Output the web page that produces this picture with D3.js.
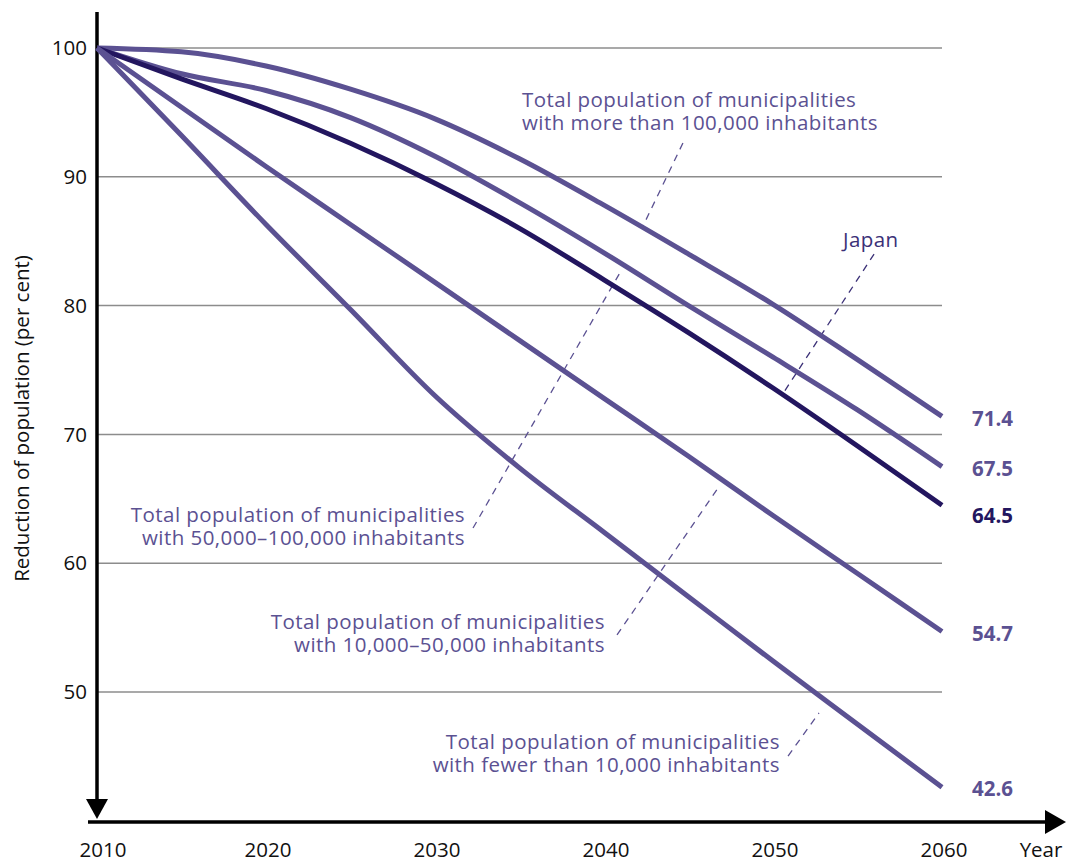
<!DOCTYPE html>
<html>
<head>
<meta charset="utf-8">
<script src="https://cdn.jsdelivr.net/npm/d3@7/dist/d3.min.js"></script>
<style>
  html, body { margin: 0; padding: 0; background: #fff; }
  svg { display: block; font-family: "Open Sans", Lato, sans-serif; }
</style>
</head>
<body>
<svg id="chart" width="1072" height="862"></svg>
<script>
// ---------- data ----------
const years = [2010, 2015, 2020, 2025, 2030, 2035, 2040, 2045, 2050, 2055, 2060];
const seriesNames = [
  "More than 100,000",
  "50,000–100,000",
  "Japan",
  "10,000–50,000",
  "Fewer than 10,000"
];
const over100k     = [100, 99.7, 98.6, 96.8, 94.5, 91.4, 87.8, 84.0, 80.1, 75.8, 71.4];
const from50to100k = [100, 98.0, 96.7, 94.6, 91.6, 88.0, 84.1, 80.0, 76.0, 71.9, 67.5];
const japan        = [100, 97.6, 95.3, 92.6, 89.5, 86.0, 82.0, 77.9, 73.6, 69.1, 64.5];
const from10to50k  = [100, 95.4, 90.8, 86.3, 81.8, 77.3, 72.8, 68.3, 63.7, 59.2, 54.7];
const under10k     = [100, 93.2, 86.3, 79.7, 73.0, 67.4, 62.4, 57.4, 52.4, 47.5, 42.6];
const endLabels  = ["71.4", "67.5", "64.5", "54.7", "42.6"];
const yTicks = [50, 60, 70, 80, 90, 100];
const xTicks = [2010, 2020, 2030, 2040, 2050, 2060];
const yTitle = "Reduction of population (per cent)";
const xTitle = "Year";
// annotations: text lines, text anchor point (year, value), leader line (year,value)->(year,value)
const annoText = [
  ["Total population of municipalities", "with more than 100,000 inhabitants"],
  ["Japan"],
  ["Total population of municipalities", "with 50,000–100,000 inhabitants"],
  ["Total population of municipalities", "with 10,000–50,000 inhabitants"],
  ["Total population of municipalities", "with fewer than 10,000 inhabitants"]
];
const annoAt = [[2035.15, 95.42], [2054.14, 84.55], [2031.78, 63.2], [2040.06, 54.89], [2050.41, 45.57]];
const annoAnchor = ["start", "start", "end", "end", "end"];
const leaderFrom = [[2044.67, 92.62], [2055.98, 84.0], [2032.25, 62.73], [2040.77, 54.43], [2050.89, 45.03]];
const leaderTo   = [[2042.25, 86.02], [2050.65, 73.29], [2041.07, 82.84], [2046.75, 65.84], [2052.72, 48.37]];

const allSeries = [over100k, from50to100k, japan, from10to50k, under10k];

// ---------- styles ----------
const purple = "#5b5192";
const dark = "#23165f";
const colors = [purple, purple, dark, purple, purple];
const annoColors = [purple, "#3b3077", purple, purple, purple];
const fs = 20.5;

// ---------- drawing ----------
const svg = d3.select("#chart");
const x = d3.scaleLinear().domain([2010, 2060]).range([97, 942]);
const y = d3.scaleLinear().domain([50, 100]).range([692, 48]);

// gridlines
svg.append("g").selectAll("line").data(yTicks).join("line")
  .attr("x1", x(2010)).attr("x2", x(2060))
  .attr("y1", d => y(d)).attr("y2", d => y(d))
  .attr("stroke", "#8c8c8c").attr("stroke-width", 1.5);

// y tick labels
svg.append("g").selectAll("text").data(yTicks).join("text")
  .attr("x", 87).attr("y", d => y(d)).attr("dy", "0.35em")
  .attr("text-anchor", "end").attr("font-size", fs).attr("fill", "#111")
  .text(d => d);

// x tick labels
const axisY = 822;
svg.append("g").selectAll("text").data(xTicks).join("text")
  .attr("x", d => x(d) + (d === 2010 ? 6 : 2)).attr("y", 850).attr("dy", "0.35em")
  .attr("text-anchor", "middle").attr("font-size", fs).attr("fill", "#111")
  .text(d => d);

svg.append("text").attr("x", 1041).attr("y", 850).attr("dy", "0.35em")
  .attr("text-anchor", "middle").attr("font-size", fs).attr("fill", "#111").text(xTitle);

svg.append("text")
  .attr("transform", `translate(22,${(245 + 592) / 2}) rotate(-90)`)
  .attr("text-anchor", "middle").attr("dy", "0.35em").attr("font-size", fs).attr("fill", "#111")
  .text(yTitle);

// axes with arrows
svg.append("line").attr("x1", x(2010)).attr("x2", x(2010)).attr("y1", 12).attr("y2", 802)
  .attr("stroke", "#000").attr("stroke-width", 3.5);
svg.append("path")
  .attr("d", `M${x(2010) - 11},799 L${x(2010) + 11},799 L${x(2010)},819 Z`).attr("fill", "#000");
svg.append("line").attr("x1", 88).attr("x2", 1048).attr("y1", axisY).attr("y2", axisY)
  .attr("stroke", "#000").attr("stroke-width", 3.5);
svg.append("path")
  .attr("d", `M1045,${axisY - 12} L1045,${axisY + 12} L1066,${axisY} Z`).attr("fill", "#000");

// leader lines
svg.append("g").selectAll("line").data(leaderFrom).join("line")
  .attr("x1", d => x(d[0])).attr("y1", d => y(d[1]))
  .attr("x2", (d, i) => x(leaderTo[i][0])).attr("y2", (d, i) => y(leaderTo[i][1]))
  .attr("stroke", (d, i) => annoColors[i]).attr("stroke-width", 1.3)
  .attr("stroke-dasharray", "7,6");

// series lines
const line = d3.line().x((d, i) => x(years[i])).y(d => y(d)).curve(d3.curveMonotoneX);
svg.append("g").selectAll("path").data(allSeries).join("path")
  .attr("d", d => line(d)).attr("fill", "none")
  .attr("stroke", (d, i) => colors[i]).attr("stroke-width", 5)
  .attr("stroke-linecap", "butt");

// end labels (with simple spacing so they don't collide)
let prev = -Infinity;
const labelY = allSeries.map(d => {
  const v = Math.max(y(d[d.length - 1]) + 2, prev + 47);
  prev = v;
  return v;
});
svg.append("g").selectAll("text").data(allSeries).join("text")
  .attr("x", 972).attr("y", (d, i) => labelY[i]).attr("dy", "0.35em")
  .attr("font-size", fs).attr("font-weight", "bold").attr("fill", (d, i) => colors[i])
  .text((d, i) => endLabels[i]);

// annotation texts (one text element per line)
const annoG = svg.append("g");
annoText.forEach((lines, i) => {
  lines.forEach((s, j) => {
    annoG.append("text")
      .attr("x", x(annoAt[i][0])).attr("y", y(annoAt[i][1]) + j * 23)
      .attr("text-anchor", annoAnchor[i]).attr("font-size", fs)
      .attr("letter-spacing", 0.45).attr("fill", annoColors[i])
      .text(s);
  });
});
</script>
</body>
</html>
